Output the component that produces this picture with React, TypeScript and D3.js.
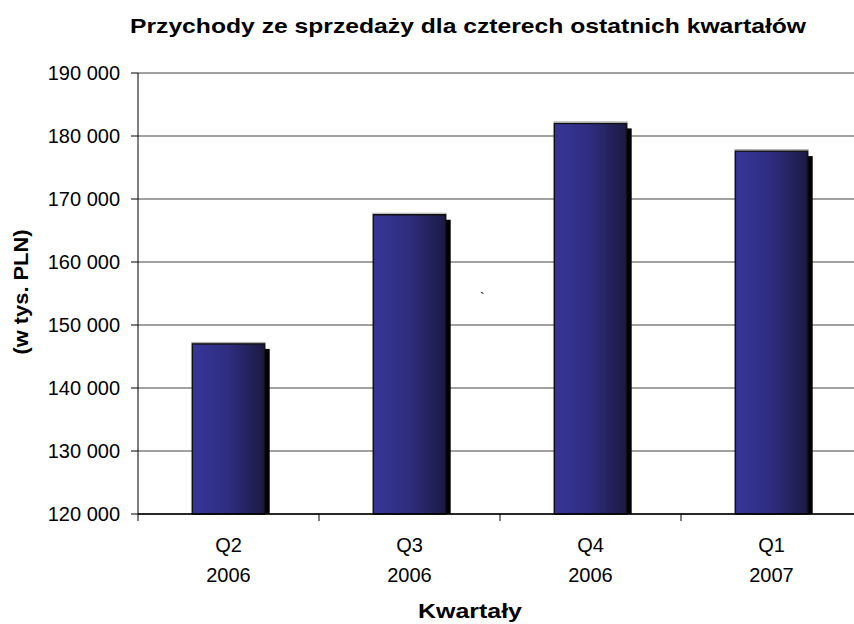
import React from "react";
import * as d3 from "d3";

const categories = ["Q2|2006", "Q3|2006", "Q4|2006", "Q1|2007"];
const values = [147000, 167500, 182000, 177600];
const yTicks = [120000, 130000, 140000, 150000, 160000, 170000, 180000, 190000];
const title = "Przychody ze sprzedaży dla czterech ostatnich kwartałów";
const yTitle = "(w tys. PLN)";
const xTitle = "Kwartały";

const W = 854, H = 624;
const M = { left: 138, right: 862, top: 73, bottom: 514 };

export default function App() {
  const x = d3.scaleBand<string>().domain(categories).range([M.left, M.right]).paddingInner(0.6).paddingOuter(0.3);
  const xb = d3.scaleBand<string>().domain(categories).range([M.left, M.right]);
  const y = d3.scaleLinear().domain([120000, 190000]).range([M.bottom, M.top]);
  const fmt = (v: number) => d3.format(",")(v).replace(/,/g, " ");
  const font = "'Liberation Sans', Arial, sans-serif";
  return (
    <svg width={W} height={H} style={{ position: "absolute", left: 0, top: 0, background: "#fff" }} fontFamily={font}>
      <defs>
        <linearGradient id="bg" x1="0" x2="1" y1="0" y2="0">
          <stop offset="0" stopColor="#37369a" />
          <stop offset="0.5" stopColor="#2e2d7e" />
          <stop offset="1" stopColor="#1b1a42" />
        </linearGradient>
      </defs>
      <text x={468} y={33} textAnchor="middle" fontWeight="bold" fontSize={21} textLength={676} lengthAdjust="spacingAndGlyphs">{title}</text>
      {yTicks.map((t) => (
        <g key={t}>
          <line x1={M.left} x2={W} y1={y(t)} y2={y(t)} stroke="#444" strokeWidth={1} />
          <line x1={M.left - 7} x2={M.left} y1={y(t)} y2={y(t)} stroke="#000" />
          <text x={M.left - 18} y={y(t) + 7} textAnchor="end" fontSize={20}>{fmt(t)}</text>
        </g>
      ))}
      {categories.map((c, i) => {
        const bx = x(c)!, bw = x.bandwidth();
        const top = y(values[i]);
        return (
          <g key={c}>
            <rect x={bx + 5} y={top + 5} width={bw} height={M.bottom - top - 5} fill="#000" />
            <rect x={bx} y={top} width={bw} height={M.bottom - top} fill="url(#bg)" stroke="#111" strokeWidth={1.5} />
            <line x1={bx - 1} x2={bx + bw + 1} y1={top - 1.5} y2={top - 1.5} stroke="#aaa" strokeWidth={1} />
          </g>
        );
      })}
      <line x1={M.left} x2={M.left} y1={M.top} y2={M.bottom} stroke="#000" />
      <line x1={M.left} x2={W} y1={M.bottom} y2={M.bottom} stroke="#000" strokeWidth={1.5} />
      {categories.map((c) => (
        <line key={"t" + c} x1={xb(c)!} x2={xb(c)!} y1={M.bottom} y2={M.bottom + 7} stroke="#000" />
      ))}
      {categories.map((c) => {
        const [q, yr] = c.split("|");
        const cx = xb(c)! + xb.bandwidth() / 2;
        return (
          <g key={"l" + c}>
            <text x={cx} y={552} textAnchor="middle" fontSize={20}>{q}</text>
            <text x={cx} y={582} textAnchor="middle" fontSize={20}>{yr}</text>
          </g>
        );
      })}
      <text x={470} y={618} textAnchor="middle" fontWeight="bold" fontSize={21} textLength={104} lengthAdjust="spacingAndGlyphs">{xTitle}</text>
      <text transform={`translate(28,292) rotate(-90)`} textAnchor="middle" fontWeight="bold" fontSize={21} textLength={125} lengthAdjust="spacingAndGlyphs">{yTitle}</text>
      <text x={480} y={303} fontSize={14}>`</text>
    </svg>
  );
}
